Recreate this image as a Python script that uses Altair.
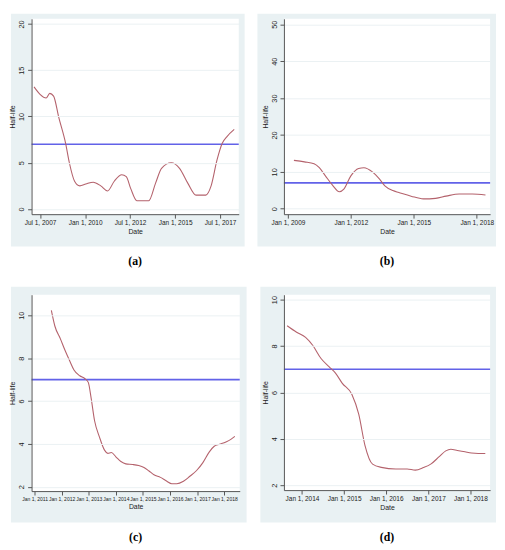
import altair as alt
import pandas as pd

BG = "#E9F1F3"
MAROON = "#B4626C"
BLUE = "#6262E8"
GRID = "#EBF1F3"
AXC = "#555555"

# ---------------- data ----------------
a_dates = ["2007-03-01", "2007-07-01", "2007-11-01", "2008-01-15", "2008-04-01", "2008-07-15",
           "2008-12-01", "2009-02-15", "2009-06-01", "2009-09-15", "2010-01-15", "2010-06-15",
           "2010-11-15", "2011-04-01", "2011-08-15", "2012-01-15", "2012-04-15", "2012-07-15",
           "2012-11-15", "2013-07-15", "2013-12-01", "2014-04-01", "2014-10-15", "2015-04-01",
           "2015-09-15", "2016-03-01", "2016-09-15", "2017-01-01", "2017-05-01", "2017-08-15",
           "2017-11-15", "2018-04-15"]
a_vals = [13.2, 12.4, 12.0, 12.5, 12.2, 9.9,
          7.1, 5.0, 3.0, 2.5, 2.7, 2.9,
          2.5, 1.95, 3.0, 3.7, 3.5, 2.2,
          0.9, 0.9, 2.8, 4.4, 5.0, 4.4,
          2.8, 1.5, 1.5, 2.5, 5.3, 7.1,
          7.8, 8.6]
a_xticks = ["2007-07-01", "2010-01-01", "2012-07-01", "2015-01-01", "2017-07-01"]
a_yticks = [0, 5, 10, 15, 20]

b_dates = ["2009-04-15", "2009-10-15", "2010-04-01", "2010-07-01", "2010-10-15", "2011-02-15",
           "2011-06-15", "2011-09-01", "2012-01-01", "2012-05-15", "2012-08-15", "2013-01-15",
           "2013-05-15", "2013-08-15", "2014-01-01", "2014-04-15", "2014-11-15", "2015-06-15",
           "2016-01-15", "2016-07-15", "2017-03-01", "2017-10-15", "2018-06-01"]
b_vals = [13.1, 12.7, 12.2, 11.1, 8.9, 6.4,
          4.6, 5.3, 8.9, 10.9, 11.1, 9.9,
          8.0, 6.2, 4.9, 4.4, 3.4, 2.65,
          2.8, 3.4, 4.0, 4.0, 3.7]
b_xticks = ["2009-01-01", "2012-01-01", "2015-01-01", "2018-01-01"]
b_yticks = [0, 10, 20, 30, 40, 50]

c_dates = ["2011-08-15", "2011-10-01", "2011-12-15", "2012-02-15", "2012-04-15", "2012-06-15",
           "2012-09-01", "2012-11-10", "2012-12-25", "2013-02-01", "2013-03-20", "2013-05-25",
           "2013-08-01", "2013-09-15", "2013-11-01", "2014-01-01", "2014-03-10", "2014-05-15",
           "2014-08-15", "2014-11-05", "2015-01-15", "2015-03-20", "2015-05-30", "2015-08-25",
           "2015-11-20", "2016-01-25", "2016-04-01", "2016-07-01", "2016-09-25", "2016-12-25",
           "2017-03-20", "2017-06-15", "2017-08-20", "2017-10-30", "2018-01-25", "2018-04-01",
           "2018-05-25"]
c_vals = [10.23, 9.5, 8.9, 8.37, 7.9, 7.45,
          7.18, 7.04, 6.87, 6.15, 5.08, 4.32,
          3.71, 3.56, 3.6, 3.4, 3.18, 3.07,
          3.04, 2.99, 2.9, 2.75, 2.56, 2.44,
          2.26, 2.14, 2.14, 2.26, 2.49, 2.76,
          3.13, 3.63, 3.89, 3.98, 4.09, 4.21,
          4.35]
c_xticks = ["2011-01-01", "2012-01-01", "2013-01-01", "2014-01-01", "2015-01-01",
            "2016-01-01", "2017-01-01", "2018-01-01"]
c_yticks = [2, 4, 6, 8, 10]

d_dates = ["2013-08-25", "2013-11-15", "2014-02-01", "2014-04-05", "2014-06-15", "2014-08-25",
           "2014-10-20", "2014-12-15", "2015-03-10", "2015-05-08", "2015-07-01", "2015-09-05",
           "2015-11-20", "2016-03-25", "2016-07-01", "2016-09-10", "2016-11-20", "2017-01-25",
           "2017-04-05", "2017-06-01", "2017-07-15", "2017-09-10", "2017-11-15", "2018-01-10",
           "2018-03-10", "2018-05-10"]
d_vals = [8.87, 8.59, 8.37, 8.02, 7.46, 7.1,
          6.82, 6.4, 5.91, 5.06, 3.72, 2.91,
          2.77, 2.7, 2.7, 2.65, 2.76, 2.92,
          3.23, 3.48, 3.55, 3.5, 3.44, 3.39,
          3.37, 3.37]
d_xticks = ["2014-01-01", "2015-01-01", "2016-01-01", "2017-01-01", "2018-01-01"]
d_yticks = [2, 4, 6, 8, 10]

FONT = "Liberation Sans"


def ms(s):
    return int(pd.Timestamp(s).value // 10**6)


def panel(dates, vals, xticks, yticks, xdom, ydom, W, H, pad, caption, xlab_size):
    l, r, t, b = pad
    df = pd.DataFrame({"date": dates, "v": vals})
    one = pd.DataFrame({"k": [0]})
    bg = alt.Chart(one).mark_rect(color=BG).encode(
        x=alt.value(-l), x2=alt.value(W + r), y=alt.value(-t), y2=alt.value(H + b))
    white = alt.Chart(one).mark_rect(color="white").encode(
        x=alt.value(0), x2=alt.value(W), y=alt.value(0), y2=alt.value(H))
    xs = alt.Scale(type="utc", domain=[ms(d) for d in xdom], nice=False)
    ys = alt.Scale(domain=ydom, nice=False, zero=False)
    xax = alt.Axis(values=[ms(d) for d in xticks],
                   labelExpr="utcFormat(datum.value, '%b %-d, %Y')",
                   title="Date", labelFont=FONT,
                   labelFontSize=xlab_size, labelColor="#222222", labelAngle=0,
                   labelPadding=2, labelOverlap=False, labelFlush=False,
                   titleFont=FONT, titleFontSize=7,
                   titleFontWeight="normal", titleColor="#222222", titlePadding=1,
                   domainColor=AXC, tickColor=AXC, tickSize=4, grid=False, zindex=1)
    yax = alt.Axis(values=yticks, title="Half-life", labelFont=FONT,
                   labelFontSize=7.5, labelColor="#222222", labelAngle=270,
                   labelAlign="center", labelBaseline="bottom", labelPadding=2,
                   labelOverlap=False, labelFlush=False,
                   titleFont=FONT, titleFontSize=7, titleFontWeight="normal",
                   titleColor="#222222", titlePadding=2,
                   domainColor=AXC, tickColor=AXC, tickSize=4,
                   grid=True, gridColor=GRID, gridWidth=1, zindex=1)
    rule = alt.Chart(pd.DataFrame({"v": [7.0]})).mark_rule(color=BLUE, strokeWidth=1.6).encode(
        y=alt.Y("v:Q", scale=ys, axis=yax))
    line = alt.Chart(df).mark_line(color=MAROON, strokeWidth=1.1, interpolate="monotone").encode(
        x=alt.X("date:T", scale=xs, axis=xax),
        y=alt.Y("v:Q", scale=ys, axis=yax))
    return alt.layer(bg, white, rule, line).properties(
        width=W, height=H,
        title=alt.TitleParams(caption, orient="bottom", anchor="middle",
                              font="Liberation Serif", fontSize=12, fontWeight="bold",
                              color="#000000", offset=10))


pa = panel(a_dates, a_vals, a_xticks, a_yticks, ["2007-01-10", "2018-07-16"], [-0.56, 20.56],
           211, 199, (21, 6, 5, 33), "(a)", 6.6)
pb = panel(b_dates, b_vals, b_xticks, b_yticks, ["2008-10-23", "2018-08-21"], [-1.49, 51.49],
           210, 199, (27, 6, 5, 33), "(b)", 6.6)
pc = panel(c_dates, c_vals, c_xticks, c_yticks, ["2010-11-21", "2018-07-30"], [1.80, 10.96],
           212, 200, (21, 7, 8, 32), "(c)", 5.1)
pd_ = panel(d_dates, d_vals, d_xticks, d_yticks, ["2013-07-28", "2018-06-21"], [1.79, 10.21],
            210, 199, (24, 6, 8, 33), "(d)", 6.6)

row1 = alt.hconcat(pa, pb, spacing=11)
row2 = alt.hconcat(pc, pd_, spacing=12)
chart = alt.vconcat(row1, row2, spacing=18).properties(
    padding=0, background="white").configure_view(stroke="transparent")

chart.save("out.html", embed_options={"renderer": "svg", "actions": False})
